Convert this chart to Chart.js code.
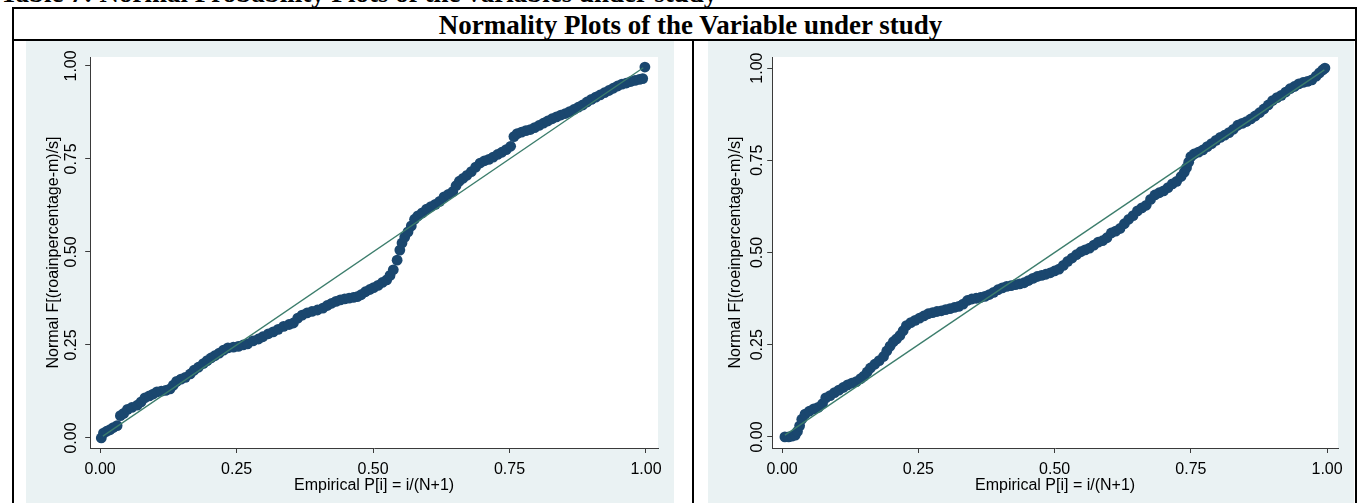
<!DOCTYPE html>
<html>
<head>
<meta charset="utf-8">
<title>Normality Plots of the Variable under study</title>
<script src="https://cdn.jsdelivr.net/npm/chart.js@4.4.1/dist/chart.umd.min.js"></script>
<style>
  body { margin: 0; background: #fff; width: 1358px; height: 503px; overflow: hidden; position: relative; }
  .caption { position: absolute; left: 0; top: -22px; font: bold 27px "Liberation Serif", "Times New Roman", serif; white-space: nowrap; }
  .header { position: absolute; left: 20px; width: 1341px; top: 10px; text-align: center; font: bold 27px "Liberation Serif", "Times New Roman", serif; white-space: nowrap; }
  .hline { position: absolute; background: #000; height: 2px; left: 12px; width: 1345px; }
  .vline { position: absolute; background: #000; width: 2px; top: 7px; height: 500px; }
  .panel { position: absolute; top: 41px; height: 462px; background: #eaf2f3; }
</style>
</head>
<body>
<div class="caption">Table 7: Normal Probability Plots of the variables under study</div>
<div class="hline" style="top:7px"></div>
<div class="header">Normality Plots of the Variable under study</div>
<div class="hline" style="top:39px"></div>
<div class="vline" style="left:12px"></div>
<div class="vline" style="left:692px;top:39px"></div>
<div class="vline" style="left:1355px"></div>

<div class="panel" style="left:26px;width:648px"><canvas id="roa-chart" width="648" height="462"></canvas></div>
<div class="panel" style="left:708px;width:646px"><canvas id="roe-chart" width="646" height="462"></canvas></div>

<script>
// tick values shared by both axes
const tickVals = [0, 0.25, 0.5, 0.75, 1];

// ROA: empirical P[i] vs normal F
const roaX = [0.002, 0.006, 0.012, 0.018, 0.024, 0.031, 0.037, 0.043, 0.050, 0.058, 0.068, 0.075, 0.082, 0.090, 0.097,
  0.104, 0.112, 0.120, 0.128, 0.134, 0.140, 0.148, 0.156, 0.165, 0.172, 0.180, 0.189, 0.196, 0.203, 0.210,
  0.218, 0.226, 0.234, 0.244, 0.253, 0.262, 0.270, 0.280, 0.290, 0.298, 0.308, 0.317, 0.326, 0.336, 0.346,
  0.354, 0.362, 0.370, 0.379, 0.388, 0.398, 0.408, 0.416, 0.424, 0.432, 0.440, 0.448, 0.456, 0.464, 0.471,
  0.478, 0.486, 0.494, 0.501, 0.509, 0.517, 0.525, 0.531, 0.537, 0.544, 0.549, 0.553, 0.558, 0.564, 0.570,
  0.576, 0.582, 0.590, 0.598, 0.606, 0.614, 0.622, 0.630, 0.638, 0.646, 0.652, 0.658, 0.665, 0.672, 0.680,
  0.688, 0.696, 0.704, 0.712, 0.720, 0.728, 0.736, 0.744, 0.752, 0.758, 0.764, 0.772, 0.780, 0.788, 0.796,
  0.804, 0.812, 0.820, 0.828, 0.836, 0.844, 0.852, 0.860, 0.868, 0.876, 0.884, 0.892, 0.900, 0.908, 0.916,
  0.924, 0.932, 0.940, 0.948, 0.956, 0.964, 0.972, 0.980, 0.988, 0.994, 0.998];
const roaY = [0.000, 0.013, 0.018, 0.022, 0.028, 0.033, 0.060, 0.066, 0.077, 0.082, 0.088, 0.097, 0.108, 0.113, 0.118,
  0.124, 0.126, 0.128, 0.132, 0.142, 0.152, 0.158, 0.163, 0.172, 0.182, 0.190, 0.200, 0.208, 0.215, 0.221,
  0.228, 0.236, 0.242, 0.244, 0.246, 0.250, 0.253, 0.261, 0.266, 0.272, 0.280, 0.285, 0.292, 0.300, 0.305,
  0.309, 0.322, 0.330, 0.336, 0.340, 0.344, 0.349, 0.356, 0.362, 0.367, 0.371, 0.374, 0.376, 0.378, 0.380,
  0.385, 0.393, 0.399, 0.404, 0.410, 0.418, 0.425, 0.437, 0.452, 0.478, 0.505, 0.524, 0.540, 0.554, 0.570,
  0.588, 0.597, 0.605, 0.615, 0.622, 0.628, 0.636, 0.648, 0.655, 0.662, 0.678, 0.690, 0.698, 0.706, 0.716,
  0.728, 0.739, 0.745, 0.749, 0.755, 0.762, 0.768, 0.775, 0.784, 0.810, 0.818, 0.822, 0.826, 0.829, 0.834,
  0.840, 0.846, 0.852, 0.858, 0.863, 0.868, 0.872, 0.877, 0.883, 0.889, 0.895, 0.903, 0.910, 0.916, 0.922,
  0.928, 0.934, 0.940, 0.946, 0.951, 0.954, 0.958, 0.961, 0.964, 0.966, 0.997];

// ROE: empirical P[i] vs normal F
const roeX = [0.005, 0.012, 0.018, 0.024, 0.028, 0.032, 0.036, 0.042, 0.050, 0.058, 0.066, 0.074, 0.080, 0.088, 0.096,
  0.104, 0.112, 0.120, 0.128, 0.136, 0.144, 0.150, 0.156, 0.162, 0.170, 0.178, 0.186, 0.192, 0.198, 0.204,
  0.210, 0.216, 0.222, 0.228, 0.236, 0.244, 0.252, 0.260, 0.268, 0.276, 0.284, 0.292, 0.300, 0.308, 0.316,
  0.324, 0.332, 0.340, 0.348, 0.356, 0.364, 0.372, 0.380, 0.388, 0.396, 0.404, 0.412, 0.420, 0.428, 0.436,
  0.444, 0.452, 0.460, 0.468, 0.476, 0.484, 0.492, 0.500, 0.508, 0.516, 0.524, 0.532, 0.540, 0.548, 0.556,
  0.564, 0.572, 0.580, 0.588, 0.596, 0.604, 0.612, 0.620, 0.628, 0.636, 0.644, 0.652, 0.660, 0.668, 0.676,
  0.684, 0.692, 0.700, 0.708, 0.716, 0.724, 0.732, 0.738, 0.742, 0.746, 0.750, 0.756, 0.764, 0.772, 0.780,
  0.788, 0.796, 0.804, 0.812, 0.820, 0.828, 0.836, 0.844, 0.852, 0.860, 0.868, 0.876, 0.884, 0.892, 0.900,
  0.908, 0.916, 0.924, 0.932, 0.940, 0.948, 0.956, 0.964, 0.972, 0.980, 0.986, 0.992, 0.996];
const roeY = [0.000, 0.000, 0.002, 0.005, 0.015, 0.030, 0.048, 0.062, 0.070, 0.076, 0.080, 0.090, 0.106, 0.112, 0.120,
  0.127, 0.134, 0.141, 0.146, 0.150, 0.158, 0.165, 0.176, 0.187, 0.197, 0.207, 0.218, 0.233, 0.246, 0.258,
  0.266, 0.275, 0.288, 0.302, 0.310, 0.316, 0.322, 0.328, 0.334, 0.337, 0.340, 0.342, 0.345, 0.348, 0.351,
  0.354, 0.360, 0.370, 0.374, 0.376, 0.378, 0.381, 0.386, 0.392, 0.399, 0.404, 0.408, 0.410, 0.413, 0.415,
  0.418, 0.424, 0.430, 0.435, 0.438, 0.441, 0.445, 0.450, 0.455, 0.465, 0.476, 0.485, 0.494, 0.502, 0.507,
  0.512, 0.520, 0.528, 0.532, 0.540, 0.553, 0.558, 0.565, 0.578, 0.590, 0.600, 0.613, 0.621, 0.628, 0.644,
  0.656, 0.662, 0.667, 0.676, 0.686, 0.693, 0.706, 0.718, 0.730, 0.745, 0.760, 0.767, 0.772, 0.778, 0.787,
  0.795, 0.804, 0.812, 0.818, 0.825, 0.834, 0.845, 0.850, 0.855, 0.862, 0.870, 0.879, 0.889, 0.900, 0.912,
  0.920, 0.926, 0.935, 0.944, 0.950, 0.957, 0.961, 0.964, 0.968, 0.978, 0.987, 0.995, 1.000];

// 45-degree reference line ends
const refX = [0.005, 0.995];
const refY = [0.005, 0.995];

const fontFamily = '"Liberation Sans", Arial, sans-serif';
const axisColor = '#3a3a3a';

// white plot region + rotated y tick labels (Stata style)
const stataPlugin = {
  id: 'stata',
  beforeDraw(chart) {
    const a = chart.chartArea;
    chart.ctx.save();
    chart.ctx.fillStyle = '#ffffff';
    chart.ctx.fillRect(a.left, a.top, a.right - a.left, a.bottom - a.top);
    chart.ctx.restore();
  },
  afterDraw(chart, args, opts) {
    const ctx = chart.ctx;
    const s = chart.scales.y;
    ctx.save();
    ctx.font = '16px ' + fontFamily;
    ctx.fillStyle = '#000';
    ctx.textAlign = 'center';
    ctx.textBaseline = 'middle';
    tickVals.forEach(v => {
      ctx.save();
      ctx.translate(opts.labelX, s.getPixelForValue(v));
      ctx.rotate(-Math.PI / 2);
      ctx.fillText(v.toFixed(2), 0, 0);
      ctx.restore();
    });
    ctx.restore();
  }
};

function makePlot(id, xs, ys, yTitle, yMin, yMax, xMax, labelX) {
  const pts = xs.map((x, i) => ({ x: x, y: ys[i] }));
  const ref = refX.map((x, i) => ({ x: x, y: refY[i] }));
  const setTicks = scale => { scale.ticks = tickVals.map(v => ({ value: v })); };
  new Chart(document.getElementById(id), {
    type: 'scatter',
    data: {
      datasets: [
        { type: 'line', data: ref, borderColor: '#3c7d6c', borderWidth: 1.3, pointRadius: 0, fill: false, order: 1 },
        { data: pts, backgroundColor: '#1a476f', borderWidth: 0, pointRadius: 5.4, order: 2 }
      ]
    },
    options: {
      responsive: false,
      animation: false,
      devicePixelRatio: 1,
      layout: { padding: { left: 0, right: 16, top: 16, bottom: 7.6 } },
      plugins: { legend: { display: false }, tooltip: { enabled: false }, stata: { labelX: labelX } },
      scales: {
        x: {
          type: 'linear', min: -0.0183, max: xMax,
          afterBuildTicks: setTicks,
          border: { display: true, color: axisColor, width: 1 },
          grid: { drawOnChartArea: false, drawTicks: true, tickLength: 5, color: axisColor },
          ticks: { color: '#000', font: { family: fontFamily, size: 16 }, padding: 7, maxRotation: 0,
                   callback: v => v.toFixed(2) },
          title: { display: true, text: 'Empirical P[i] = i/(N+1)', color: '#000',
                   font: { family: fontFamily, size: 16 }, padding: { top: -10, bottom: 0 } }
        },
        y: {
          type: 'linear', min: yMin, max: yMax,
          afterBuildTicks: setTicks,
          border: { display: true, color: axisColor, width: 1 },
          grid: { drawOnChartArea: false, drawTicks: true, tickLength: 5, color: axisColor },
          ticks: { display: false },
          title: { display: true, text: yTitle, color: '#000',
                   font: { family: fontFamily, size: 16 }, padding: { top: 18, bottom: 22 } }
        }
      }
    },
    plugins: [stataPlugin]
  });
}

makePlot('roa-chart', roaX, roaY, 'Normal F[(roainpercentage-m)/s]', -0.027, 1.024, 1.022, 46);
makePlot('roe-chart', roeX, roeY, 'Normal F[(roeinpercentage-m)/s]', -0.030, 1.030, 1.020, 50);
</script>
</body>
</html>
